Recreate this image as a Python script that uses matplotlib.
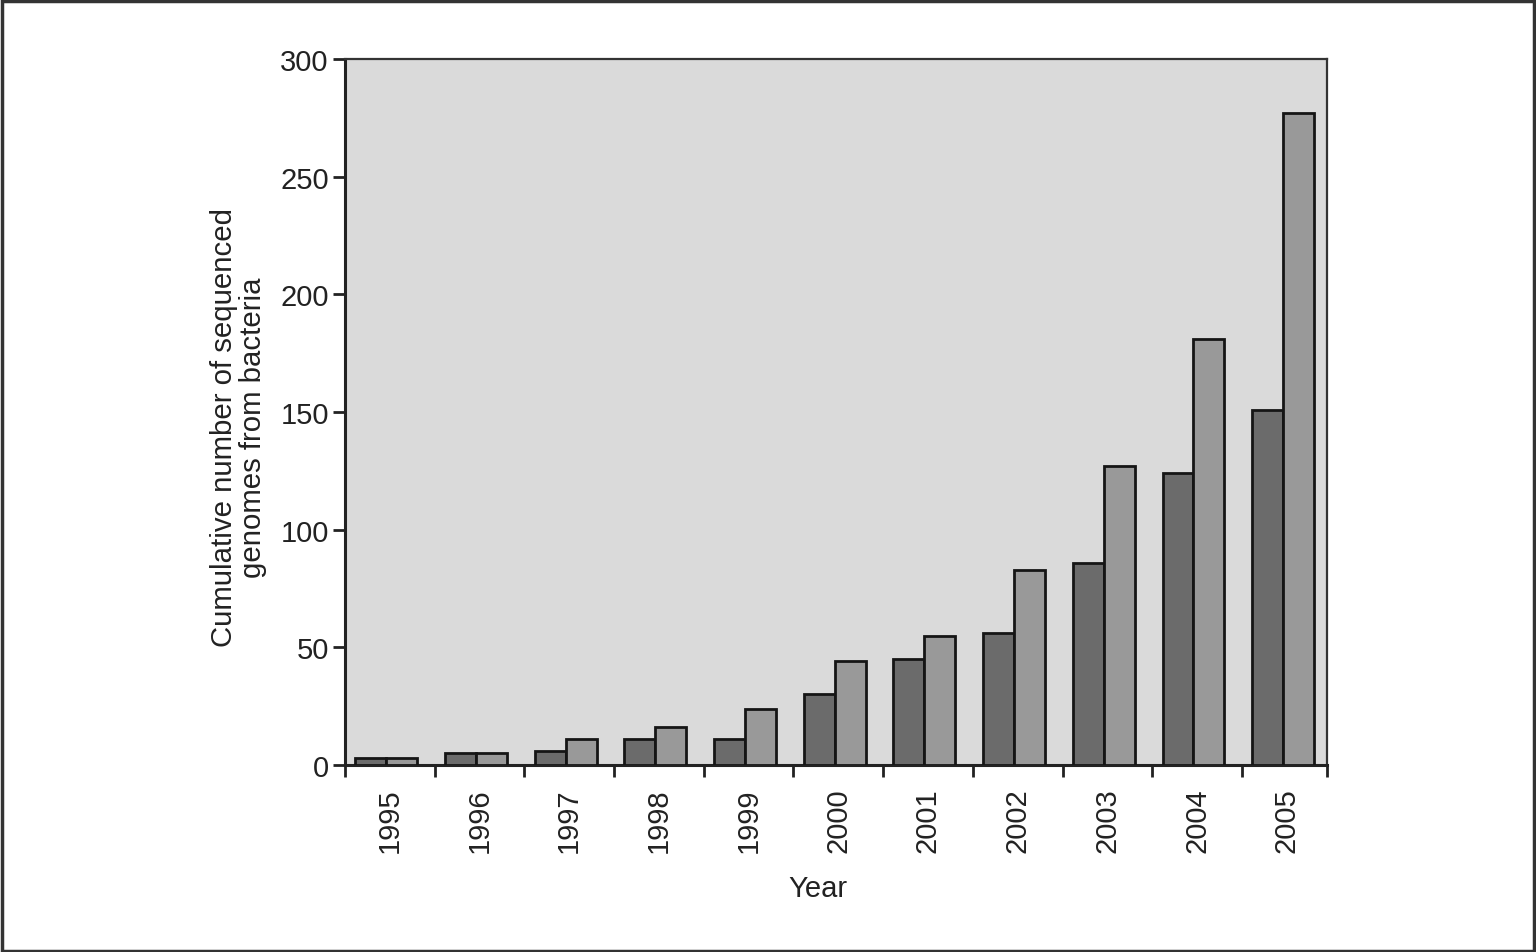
import numpy as np
import matplotlib
matplotlib.use("Agg")
import matplotlib.pyplot as plt
from matplotlib.patches import Rectangle

plt.rcParams['font.family'] = ['Liberation Sans', 'DejaVu Sans']

years = ["1995", "1996", "1997", "1998", "1999", "2000",
         "2001", "2002", "2003", "2004", "2005"]
dark_vals = [3, 5, 6, 11, 11, 30, 45, 56, 86, 124, 151]
light_vals = [3, 5, 11, 16, 24, 44, 55, 83, 127, 181, 277]

fig = plt.figure(figsize=(15.36, 9.53), dpi=100)
ax = fig.add_axes([0.2246, 0.1962, 0.8640 - 0.2246, 0.9370 - 0.1962])
ax.set_facecolor("#dadada")

x = np.arange(len(years))
w = 0.345
off = -0.04
ax.bar(x + off - w / 2, dark_vals, w, color="#6b6b6b", edgecolor="#151515", linewidth=2, zorder=3)
ax.bar(x + off + w / 2, light_vals, w, color="#999999", edgecolor="#151515", linewidth=2, zorder=3)

ax.set_xlim(-0.5, 10.45)
ax.set_ylim(0, 300)

# ticks at group boundaries, labels centred in groups
bounds = list(np.arange(-0.5, 10.0, 1.0)) + [10.45]
ax.set_xticks(bounds)
ax.set_xticklabels([])
ax.set_xticks(x, minor=True)
ax.set_xticklabels(years, minor=True, rotation=90, fontsize=21, color="#222222")
ax.tick_params(axis="x", which="major", direction="out", length=8.6, width=2, color="#222222")
ax.tick_params(axis="x", which="minor", length=0, pad=16)

ax.set_yticks([0, 50, 100, 150, 200, 250, 300])
ax.tick_params(axis="y", direction="out", length=8.6, width=2, color="#222222",
               labelsize=21, labelcolor="#222222", pad=3)

for s in ["left", "bottom"]:
    ax.spines[s].set_linewidth(2.2)
    ax.spines[s].set_color("#222222")
for s in ["top", "right"]:
    ax.spines[s].set_linewidth(1.6)
    ax.spines[s].set_color("#333333")

ax.set_ylabel("Cumulative number of sequenced\ngenomes from bacteria",
              fontsize=21.2, color="#222222", linespacing=1.05)
ax.yaxis.set_label_coords(-0.0794, 0.479)
ax.set_xlabel("Year", fontsize=21, color="#222222")
ax.xaxis.set_label_coords(0.4817, -0.155)

fig.patches.append(Rectangle((0.001, 0.001), 0.998, 0.997, transform=fig.transFigure,
                             fill=False, edgecolor="#333333", linewidth=2.5))

fig.savefig("out.png", dpi=100)
